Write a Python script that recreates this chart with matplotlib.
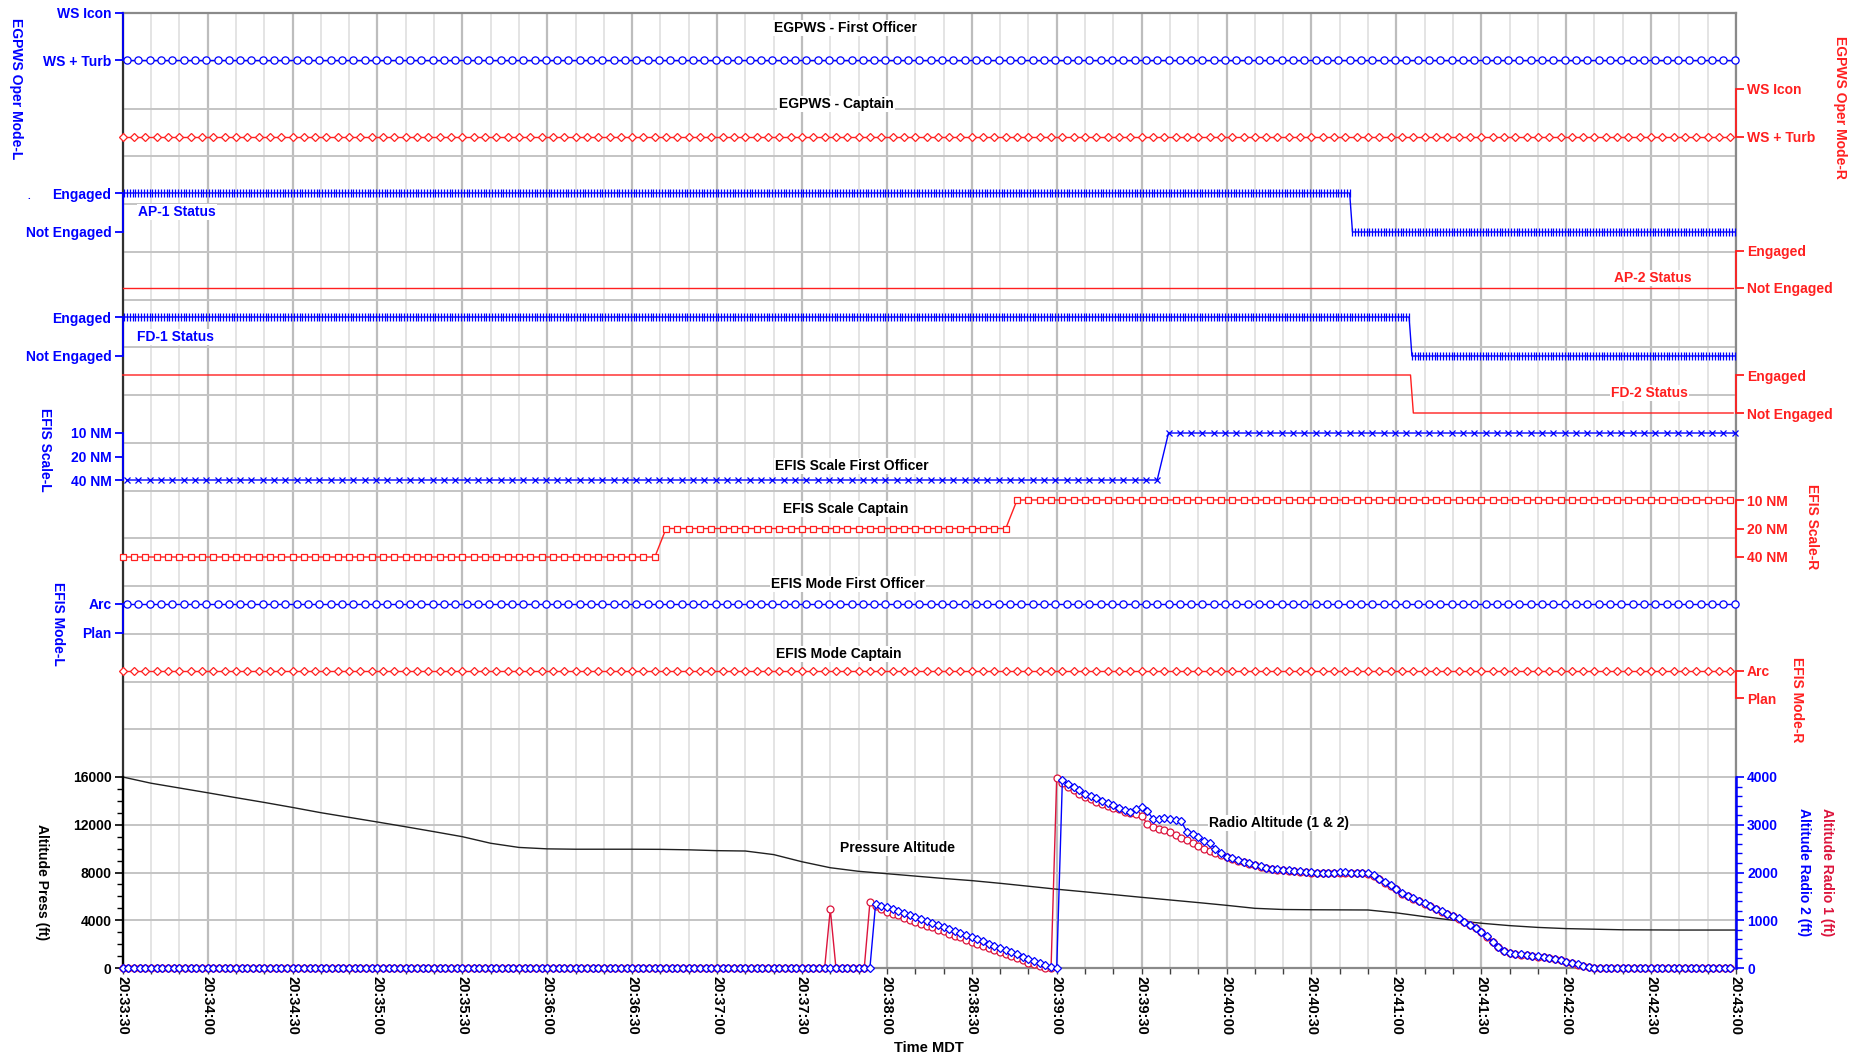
import numpy as np
import matplotlib
matplotlib.use("Agg")
import matplotlib.pyplot as plt
from matplotlib.ticker import MultipleLocator

plt.rcParams['font.family'] = ['Liberation Sans', 'DejaVu Sans']

# ---------------- DATA ----------------
DUR = 570  # seconds from 20:33:30 to 20:43:00
x_tick_labels = ["20:33:30", "20:34:00", "20:34:30", "20:35:00", "20:35:30", "20:36:00",
                 "20:36:30", "20:37:00", "20:37:30", "20:38:00", "20:38:30", "20:39:00",
                 "20:39:30", "20:40:00", "20:40:30", "20:41:00", "20:41:30", "20:42:00",
                 "20:42:30", "20:43:00"]

egpws_states = ["WS + Turb", "WS Icon"]
egpws_fo_change_t = [0]
egpws_fo_change_v = ["WS + Turb"]
egpws_capt_change_t = [0]
egpws_capt_change_v = ["WS + Turb"]

ap_states = ["Not Engaged", "Engaged"]
ap1_change_t = [0, 434]
ap1_change_v = ["Engaged", "Not Engaged"]
ap2_change_t = [0]
ap2_change_v = ["Not Engaged"]
fd1_change_t = [0, 455]
fd1_change_v = ["Engaged", "Not Engaged"]
fd2_change_t = [0, 455.5]
fd2_change_v = ["Engaged", "Not Engaged"]

scale_states = ["40 NM", "20 NM", "10 NM"]
scale_fo_change_t = [0, 368]
scale_fo_change_v = ["40 NM", "10 NM"]
scale_capt_change_t = [0, 190, 314]
scale_capt_change_v = ["40 NM", "20 NM", "10 NM"]

mode_states = ["Plan", "Arc"]
mode_fo_change_t = [0]
mode_fo_change_v = ["Arc"]
mode_capt_change_t = [0]
mode_capt_change_v = ["Arc"]

# Pressure altitude (ft), every 10 s
press_t = np.arange(0, DUR + 1, 10)
press_alt = [16000, 15480, 15080, 14680, 14270, 13870, 13450, 13010, 12620, 12230,
             11830, 11420, 11000, 10450, 10100, 9980, 9950, 9950, 9950, 9940,
             9900, 9830, 9800, 9500, 8900, 8400, 8100, 7900, 7700, 7500,
             7320, 7095, 6850, 6600, 6380, 6150, 5920, 5700, 5480, 5250,
             5000, 4900, 4880, 4870, 4860, 4620, 4300, 4000, 3750, 3550,
             3400, 3300, 3250, 3200, 3190, 3180, 3180, 3180]

# Radio altitudes (ft), every 2 s
radio_t = np.arange(0, DUR, 2)
radio1_alt = [0] * 124 + [
    0, 1230, 0, 0, 0, 0, 0, 0, 1375, 1300, 1230, 1180, 1140, 1100, 1055, 1010,
    970, 930, 890, 850, 805, 765, 720, 680, 640, 595, 551, 510, 465, 420, 380, 335,
    290, 245, 200, 160, 115, 75, 35, 0, 0, 3970,
    3880, 3800, 3720, 3640, 3580, 3530, 3480, 3440, 3400, 3360, 3320, 3270, 3238, 3215,
    3190, 3020, 2950, 2920, 2890, 2855, 2790, 2730, 2680, 2620, 2560, 2500, 2450, 2410,
    2370, 2331, 2290, 2250, 2210, 2180, 2150, 2120, 2095, 2075, 2060, 2052, 2040, 2030,
    2020, 2010, 2000, 1996, 1995, 1995, 1996, 1998, 1998, 1996, 1990, 1985, 1975, 1930,
    1860, 1790, 1720, 1650, 1560, 1500, 1450, 1400, 1350, 1290, 1230, 1180, 1130, 1080,
    1030, 960, 900, 830, 750, 650, 540, 430, 350, 310, 290, 280, 270, 255, 240, 225,
    205, 185, 160, 130, 100, 70, 40, 15, 0]
radio1_alt = radio1_alt + [0] * (len(radio_t) - len(radio1_alt))

radio2_alt = [0] * 124 + [
    0, 0, 0, 0, 0, 0, 0, 0, 0, 1340, 1300, 1270, 1230, 1190, 1150, 1110,
    1065, 1025, 985, 945, 900, 860, 815, 775, 730, 690, 643, 600, 555, 510, 465, 420,
    375, 330, 285, 240, 195, 150, 105, 60, 30, 0,
    3937, 3860, 3790, 3720, 3650, 3600, 3550, 3500, 3460, 3410, 3360, 3310, 3273, 3340,
    3378, 3294, 3120, 3110, 3135, 3120, 3100, 3070, 2855, 2800, 2740, 2670, 2620, 2500,
    2400, 2331, 2300, 2260, 2220, 2190, 2160, 2130, 2100, 2080, 2065, 2055, 2045, 2035,
    2025, 2015, 2005, 2000, 1998, 1998, 2000, 2002, 2002, 2000, 1995, 1990, 1980, 1940,
    1870, 1800, 1730, 1660, 1570, 1510, 1460, 1410, 1360, 1300, 1240, 1190, 1140, 1090,
    1040, 970, 910, 840, 760, 660, 550, 440, 360, 315, 295, 285, 275, 260, 245, 230,
    210, 190, 165, 135, 105, 75, 45, 20, 0]
radio2_alt = radio2_alt + [0] * (len(radio_t) - len(radio2_alt))

# ---------------- LAYOUT ----------------
W, H = 1864, 1056
L_PX, R_PX, T_PX, B_PX = 122.7, 1736, 13, 968
BLUE = '#0000FF'
RED = '#FF2020'
CRIMSON = '#DC143C'


def fx(px):
    return px / W


def fy(py):
    return 1 - py / H


rect = [fx(L_PX), fy(B_PX), fx(R_PX) - fx(L_PX), fy(T_PX) - fy(B_PX)]

fig = plt.figure(figsize=(W / 100, H / 100), dpi=100)
fig.patch.set_facecolor('white')

# Base axes with grid and time axis
ax0 = fig.add_axes(rect)
ax0.set_xlim(0, DUR)
ax0.set_ylim(0, 20)
ax0.set_xticks(np.arange(0, DUR + 1, 30))
ax0.set_xticklabels(x_tick_labels, rotation=270, fontweight='bold', fontsize=10.5,
                    ha='center', va='top')
ax0.set_xticks(np.arange(0, DUR + 1, 10), minor=True)
ax0.set_yticks(range(21))
ax0.set_yticklabels([])
ax0.tick_params(axis='y', length=0)
ax0.tick_params(axis='x', which='both', length=4, width=1, color='#404040', pad=2)
ax0.grid(which='minor', axis='x', color='#e4e4e4', lw=1.4)
ax0.grid(which='major', axis='x', color='#bdbdbd', lw=1.6)
ax0.grid(which='major', axis='y', color='#c4c4c4', lw=1.4)
ax0.set_axisbelow(True)
ax0.spines['left'].set_color('#303030')
ax0.spines['left'].set_linewidth(1.6)
for s in ['top', 'right', 'bottom']:
    ax0.spines[s].set_color('#8a8a8a')
    ax0.spines[s].set_linewidth(1.6)
ax0.set_xlabel("Time MDT", fontweight='bold', fontsize=10.5, labelpad=4)


def ylim_for(r0, r1, v0, v1):
    upp = (v1 - v0) / (r0 - r1)
    return v0 + (r0 - B_PX) * upp, v0 + (r0 - T_PX) * upp


def trace_axis(side, states, row_lo, row_hi, color):
    ax = fig.add_axes(rect, facecolor='none')
    ax.patch.set_visible(False)
    ax.set_xlim(0, DUR)
    n = len(states) - 1
    ax.set_ylim(*ylim_for(row_lo, row_hi, 0, n))
    for s in ['top', 'bottom', 'left', 'right']:
        ax.spines[s].set_visible(False)
    sp = ax.spines[side]
    sp.set_visible(True)
    sp.set_color(color)
    sp.set_linewidth(1.3)
    sp.set_bounds(0, n)
    ax.set_xticks([])
    if side == 'right':
        ax.yaxis.tick_right()
    else:
        ax.yaxis.tick_left()
    ax.set_yticks(range(len(states)))
    ax.set_yticklabels(states, fontweight='bold', fontsize=10, color=color)
    ax.tick_params(axis='y', colors=color, length=6, width=1.3, pad=2)
    return ax


def step_values(t_samples, change_t, change_v, states):
    idx = np.searchsorted(change_t, t_samples, side='right') - 1
    return np.array([states.index(change_v[i]) for i in idx])


def plot_trace(ax, period, offset, change_t, change_v, states, color, marker, ms, mfc='white'):
    t = np.arange(offset, DUR, period)
    v = step_values(t, change_t, change_v, states)
    ax.plot(t, v, color=color, lw=1.0, marker=marker, ms=ms, mfc=mfc, mec=color,
            mew=0.9, clip_on=False)


# ---------------- TEXT (drawn first so data stays above boxes) ----------------
BOX = dict(facecolor='white', edgecolor='none', pad=1.0)


def ftext(x, y, s, color='black', rot=0, ha='center', va='center', size=10, box=False):
    fig.text(fx(x), fy(y), s, color=color, rotation=rot, ha=ha, va=va,
             fontweight='bold', fontsize=size, bbox=BOX if box else None, zorder=1)


# EGPWS
a = trace_axis('left', egpws_states, 60, 13, BLUE)
plot_trace(a, 4, 1.5, egpws_fo_change_t, egpws_fo_change_v, egpws_states, BLUE, 'o', 5.2)
a = trace_axis('right', egpws_states, 137, 89, RED)
plot_trace(a, 4, 0, egpws_capt_change_t, egpws_capt_change_v, egpws_states, RED, 'D', 4.2)

# AP
a = trace_axis('left', ap_states, 232, 193, BLUE)
plot_trace(a, 1, 0.5, ap1_change_t, ap1_change_v, ap_states, BLUE, '|', 6)
a = trace_axis('right', ap_states, 288, 251, RED)
plot_trace(a, 1, 0, ap2_change_t, ap2_change_v, ap_states, RED, None, 0)

# FD
a = trace_axis('left', ap_states, 356, 317, BLUE)
plot_trace(a, 1, 0.5, fd1_change_t, fd1_change_v, ap_states, BLUE, '|', 6)
a = trace_axis('right', ap_states, 413, 375, RED)
plot_trace(a, 1, 0, fd2_change_t, fd2_change_v, ap_states, RED, None, 0)

# EFIS scale
a = trace_axis('left', scale_states, 480, 433, BLUE)
plot_trace(a, 4, 1.5, scale_fo_change_t, scale_fo_change_v, scale_states, BLUE, 'x', 5)
a = trace_axis('right', scale_states, 557, 500, RED)
plot_trace(a, 4, 0, scale_capt_change_t, scale_capt_change_v, scale_states, RED, 's', 5)

# EFIS mode
a = trace_axis('left', mode_states, 633, 604, BLUE)
plot_trace(a, 4, 1.5, mode_fo_change_t, mode_fo_change_v, mode_states, BLUE, 'o', 5.2)
a = trace_axis('right', mode_states, 698, 671, RED)
plot_trace(a, 4, 0, mode_capt_change_t, mode_capt_change_v, mode_states, RED, 'D', 4.2)

# Altitude panel
TOP_ALT = 777
ax_p = fig.add_axes([rect[0], fy(B_PX), rect[2], fy(TOP_ALT) - fy(B_PX)], facecolor='none')
ax_p.patch.set_visible(False)
ax_p.set_xlim(0, DUR)
ax_p.set_ylim(0, 16000)
for s in ['top', 'bottom', 'right']:
    ax_p.spines[s].set_visible(False)
ax_p.spines['left'].set_color('black')
ax_p.spines['left'].set_linewidth(1.6)
ax_p.set_xticks([])
ax_p.yaxis.set_major_locator(MultipleLocator(4000))
ax_p.yaxis.set_minor_locator(MultipleLocator(1000))
ax_p.tick_params(axis='y', which='major', length=6, width=1.2, pad=2, labelsize=10)
ax_p.tick_params(axis='y', which='minor', length=4, width=1)
for lab in ax_p.get_yticklabels():
    lab.set_fontweight('bold')
ax_p.plot(press_t, press_alt, color='#202020', lw=1.0, clip_on=False)

ax_r = ax_p.twinx()
ax_r.patch.set_visible(False)
ax_r.set_ylim(0, 4000)
ax_r.set_xlim(0, DUR)
for s in ['top', 'bottom', 'left']:
    ax_r.spines[s].set_visible(False)
ax_r.spines['right'].set_color(BLUE)
ax_r.spines['right'].set_linewidth(1.8)
ax_r.yaxis.set_major_locator(MultipleLocator(1000))
ax_r.yaxis.set_minor_locator(MultipleLocator(200))
ax_r.tick_params(axis='y', which='major', length=6, width=1.2, pad=2, labelsize=10,
                 colors=BLUE)
ax_r.tick_params(axis='y', which='minor', length=4, width=1, colors=BLUE)
for lab in ax_r.get_yticklabels():
    lab.set_fontweight('bold')
ax_r.plot(radio_t, radio1_alt, color=CRIMSON, lw=1.0, marker='o', ms=5, mfc='white',
          mec=CRIMSON, mew=0.9, clip_on=False)
ax_r.plot(radio_t, radio2_alt, color=BLUE, lw=1.0, marker='D', ms=4.2, mfc='white',
          mec=BLUE, mew=0.9, clip_on=False)

# Titles / labels
ftext(846, 28, "EGPWS - First Officer", box=True)
ftext(836, 104, "EGPWS - Captain", box=True)
ftext(852, 466, "EFIS Scale First Officer", box=True)
ftext(846, 509, "EFIS Scale Captain", box=True)
ftext(848, 584, "EFIS Mode First Officer", box=True)
ftext(839, 654, "EFIS Mode Captain", box=True)
ftext(898, 848, "Pressure Altitude", box=True)
ftext(1279, 823, "Radio Altitude (1 & 2)", box=True)

ftext(138, 212, "AP-1 Status", BLUE, ha='left', box=True)
ftext(137, 337, "FD-1 Status", BLUE, ha='left', box=True)
ftext(1692, 278, "AP-2 Status", RED, ha='right', box=True)
ftext(1688, 393, "FD-2 Status", RED, ha='right', box=True)
ftext(29, 196, ".", BLUE, size=7)

ftext(16, 89, "EGPWS Oper Mode-L", BLUE, rot=270)
ftext(45, 450, "EFIS Scale-L", BLUE, rot=270)
ftext(58, 624, "EFIS Mode-L", BLUE, rot=270)
ftext(42, 882, "Altitude Press (ft)", 'black', rot=270)

ftext(1840, 107, "EGPWS Oper Mode-R", RED, rot=270)
ftext(1812, 527, "EFIS Scale-R", RED, rot=270)
ftext(1797, 700, "EFIS Mode-R", RED, rot=270)
ftext(1827, 872, "Altitude Radio 1 (ft)", CRIMSON, rot=270)
ftext(1804, 872, "Altitude Radio 2 (ft)", BLUE, rot=270)

fig.savefig("out.png", dpi=100, facecolor='white')
